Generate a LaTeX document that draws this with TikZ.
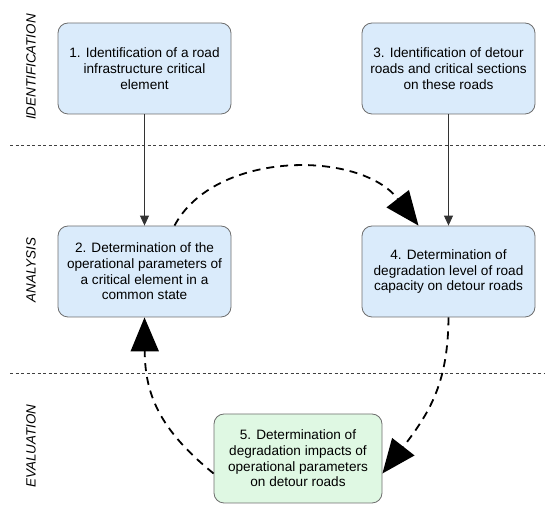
\documentclass[tikz,border=0pt]{standalone}
\usepackage{fontspec}
\setmainfont{Liberation Sans}
\usetikzlibrary{arrows.meta}
\definecolor{boxblue}{HTML}{DAEBFB}
\definecolor{boxgreen}{HTML}{DFF8E3}
\definecolor{boxline}{HTML}{6E6E6E}
\tikzset{
  stepbox/.style={draw=boxline, line width=0.8pt, rounded corners=10pt, fill=boxblue,
    minimum width=173pt, minimum height=91pt, align=center,
    font=\fontsize{13.6}{15.7}\selectfont, inner sep=0pt},
  greenbox/.style={stepbox, fill=boxgreen, minimum width=168pt, minimum height=89pt},
  solidarrow/.style={draw=black!80, line width=0.9pt, -{Triangle[length=10pt,width=9pt]}},
  bigdash/.style={line width=1.8pt, dash pattern=on 8pt off 6pt, -{Triangle[length=34pt,width=28pt]}},
  sep/.style={draw=black!75, line width=0.8pt, dash pattern=on 3pt off 2.5pt},
  phase/.style={rotate=90, font=\fontsize{13.4}{15}\selectfont\itshape}
}
\begin{document}
\begin{tikzpicture}[x=1pt,y=-1pt]
\useasboundingbox (0,0) rectangle (550,510);
\coordinate (s1a) at (10,145);
\coordinate (s1b) at (545,145);
\coordinate (s2a) at (10,373);
\coordinate (s2b) at (545,373);
\draw[sep] (s1a) -- (s1b);
\draw[sep] (s2a) -- (s2b);
\node[phase] (p1) at (31,67) {IDENTIFICATION};
\node[phase] (p2) at (31,270) {ANALYSIS};
\node[phase] (p3) at (31,446) {EVALUATION};
\node[stepbox] (b1) at (144.5,68.5) {1. Identification of a road\\infrastructure critical\\element};
\node[stepbox] (b3) at (448.5,68.5) {3. Identification of detour\\roads and critical sections\\on these roads};
\node[stepbox] (b2) at (144.5,271.5) {2. Determination of the\\operational parameters of\\a critical element in a\\common state};
\node[stepbox] (b4) at (448.5,271.5) {4. Determination of\\degradation level of road\\capacity on detour roads};
\node[greenbox] (b5) at (298,458.5) {5. Determination of\\degradation impacts of\\operational parameters\\on detour roads};
\draw[solidarrow] (b1.south) -- (b2.north);
\draw[solidarrow] (b3.south) -- (b4.north);
\draw[bigdash] ([xshift=30pt]b2.north) .. controls (215,150) and (360,150) .. ([xshift=-30pt]b4.north);
\draw[bigdash] (b4.south) .. controls (448,380) and (432,410) .. ([yshift=-15pt]b5.east);
\draw[bigdash] ([yshift=-15pt]b5.west) .. controls (160,430) and (145,395) .. (b2.south);
\end{tikzpicture}
\end{document}
